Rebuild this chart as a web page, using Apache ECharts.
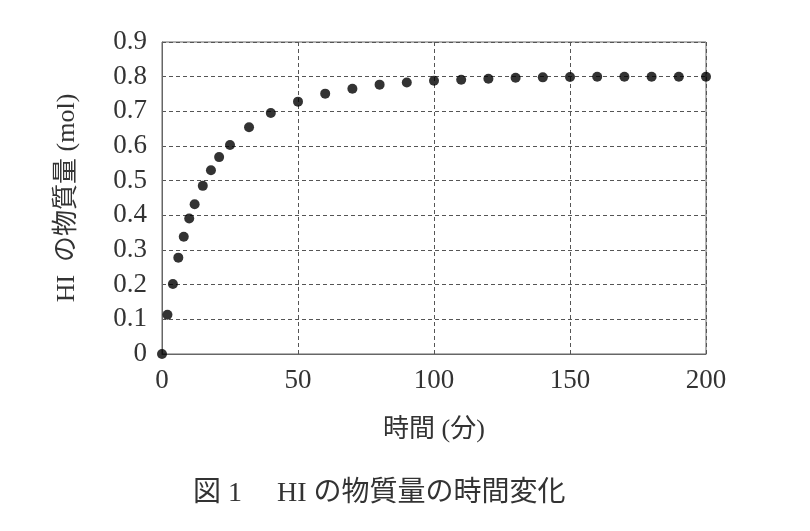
<!DOCTYPE html>
<html>
<head>
<meta charset="utf-8">
<script src="https://cdn.jsdelivr.net/npm/echarts@6/dist/echarts.min.js"></script>
<style>
html,body{margin:0;padding:0;background:#fff;}
#chart{width:810px;height:531px;}
</style>
</head>
<body>
<div id="chart"></div>
<script>
// Data
var timeMin = [0, 2, 4, 6, 8, 10, 12, 15, 18, 21, 25, 32, 40, 50, 60, 70, 80, 90, 100, 110, 120, 130, 140, 150, 160, 170, 180, 190, 200];
var hiMol   = [0, 0.113, 0.202, 0.278, 0.338, 0.391, 0.432, 0.485, 0.530, 0.568, 0.603, 0.654, 0.695, 0.728, 0.751, 0.765, 0.777, 0.783, 0.788, 0.791, 0.794, 0.797, 0.798, 0.799, 0.800, 0.800, 0.800, 0.800, 0.800];
var xAxisName = '時間 (分)';
var yAxisName = 'HI  の物質量 (mol)';
var figTitle = '図 1　 HI の物質量の時間変化';

var points = timeMin.map(function (t, i) { return [t, hiMol[i]]; });

var serif = '"Liberation Serif", "Noto Sans CJK JP", serif';
var textColor = '#333';
var chart = echarts.init(document.getElementById('chart'), null, {renderer: 'canvas'});
chart.setOption({
  animation: false,
  backgroundColor: '#fff',
  title: {
    text: figTitle,
    left: 193,
    top: 480,
    padding: 0,
    textStyle: {fontFamily: serif, fontSize: 28, fontWeight: 'normal', color: textColor}
  },
  grid: {
    left: 162, right: 104, top: 42, bottom: 177,
    show: true, borderColor: '#666', borderWidth: 1
  },
  xAxis: {
    type: 'value', min: 0, max: 200, interval: 50,
    name: xAxisName, nameLocation: 'middle', nameGap: 63,
    nameTextStyle: {fontFamily: serif, fontSize: 26, color: textColor},
    axisLine: {show: true, lineStyle: {color: '#666', width: 1}},
    axisTick: {show: false},
    axisLabel: {fontFamily: serif, fontSize: 27, color: textColor, margin: 13},
    splitLine: {show: true, lineStyle: {color: '#555', type: [4, 3], width: 1}}
  },
  yAxis: {
    type: 'value', min: 0, max: 0.9, interval: 0.1,
    name: yAxisName, nameLocation: 'middle', nameGap: 82, nameRotate: 90,
    nameTextStyle: {fontFamily: serif, fontSize: 26, color: textColor},
    axisLine: {show: true, lineStyle: {color: '#666', width: 1}},
    axisTick: {show: false},
    axisLabel: {fontFamily: serif, fontSize: 27, color: textColor, margin: 15},
    splitLine: {show: true, lineStyle: {color: '#555', type: [4, 3], width: 1}}
  },
  series: [{
    type: 'scatter',
    data: points,
    symbol: 'circle',
    symbolSize: 10,
    clip: false,
    itemStyle: {color: '#000'}
  }]
});
</script>
</body>
</html>
